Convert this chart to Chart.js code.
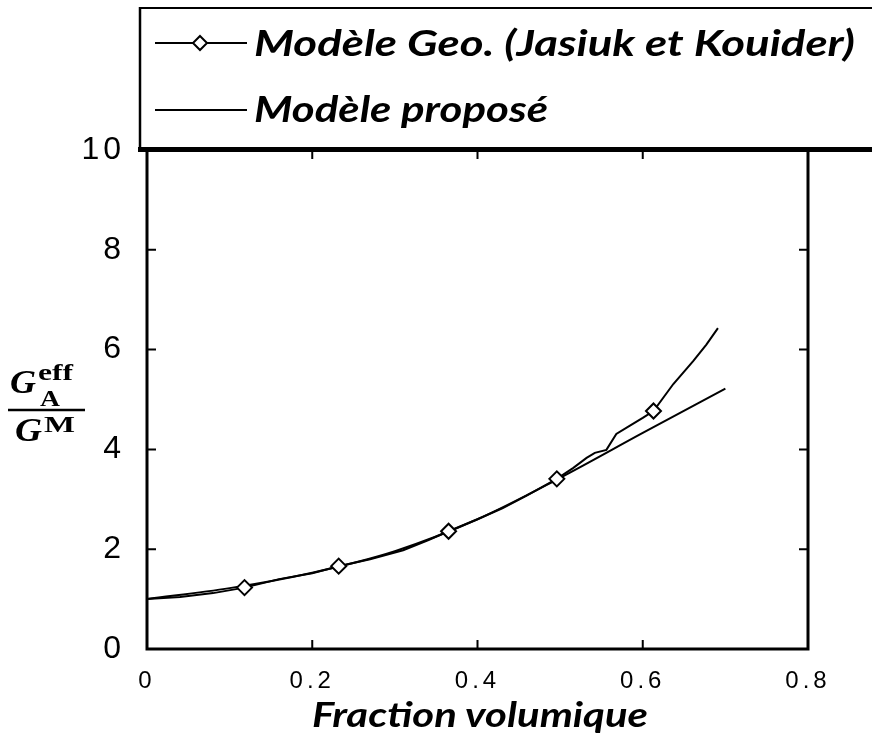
<!DOCTYPE html>
<html>
<head>
<meta charset="utf-8">
<script src="https://cdn.jsdelivr.net/npm/chart.js@4/dist/chart.umd.min.js"></script>
<style>
  body { margin: 0; background: #fff; }
  #wrap { position: relative; width: 872px; height: 743px; }
  #overlay { position: absolute; left: 0; top: 0; pointer-events: none; }
</style>
</head>
<body>
<div id="wrap">
  <canvas id="chart" width="872" height="743"></canvas>
  <svg id="overlay" width="872" height="743" xmlns="http://www.w3.org/2000/svg">
    <!-- legend box -->
    <rect x="140" y="8" width="740" height="141" fill="#fff"/>
    <line x1="140" y1="8" x2="872" y2="8" stroke="#000" stroke-width="2"/>
    <line x1="140" y1="7" x2="140" y2="150" stroke="#000" stroke-width="2.5"/>
    <line x1="138" y1="149.5" x2="872" y2="149.5" stroke="#000" stroke-width="5"/>
    <g id="legend"></g>

    <!-- y axis label: G_A^eff / G^M -->
    <g font-family="Liberation Serif, Times New Roman, serif" font-weight="bold" fill="#000">
      <text x="10" y="393" font-size="33" font-style="italic" textLength="26" lengthAdjust="spacingAndGlyphs">G</text>
      <text x="38" y="380" font-size="24" textLength="35" lengthAdjust="spacingAndGlyphs">eff</text>
      <text x="40" y="406" font-size="23" textLength="20" lengthAdjust="spacingAndGlyphs">A</text>
      <line x1="8" y1="410" x2="85" y2="410" stroke="#000" stroke-width="2.5"/>
      <text x="15" y="441" font-size="33" font-style="italic" textLength="27" lengthAdjust="spacingAndGlyphs">G</text>
      <text x="44" y="432" font-size="23" textLength="31" lengthAdjust="spacingAndGlyphs">M</text>
    </g>

    <text id="xtitle" x="312" y="727" font-family="Lato, sans-serif" font-weight="bold" font-style="italic"
          font-size="34" textLength="336" lengthAdjust="spacingAndGlyphs" fill="#000"></text>
  </svg>
</div>
<script>
const seriesLabels = ['Modèle Geo. (Jasiuk et Kouider)', 'Modèle proposé'];
const xTitle = 'Fraction volumique';

// Modèle Geo. (Jasiuk et Kouider)
const geoX = [0, 0.04, 0.08, 0.118, 0.16, 0.2, 0.232, 0.27, 0.31, 0.34, 0.365, 0.4, 0.43, 0.46,
  0.496, 0.516, 0.532, 0.542, 0.556, 0.568, 0.584, 0.6, 0.613, 0.637, 0.661, 0.677, 0.691];
const geoY = [1.0, 1.04, 1.12, 1.23, 1.4, 1.52, 1.66, 1.8, 1.98, 2.18, 2.36, 2.6, 2.82, 3.08,
  3.41, 3.63, 3.83, 3.93, 3.99, 4.31, 4.47, 4.63, 4.77, 5.31, 5.77, 6.1, 6.43];
// x positions that carry a diamond marker
const markerX = [0.118, 0.232, 0.365, 0.496, 0.613];

// Modèle proposé
const propX = [0, 0.1, 0.2, 0.3, 0.4, 0.5, 0.6, 0.7];
const propY = [1.0, 1.22, 1.53, 1.96, 2.6, 3.43, 4.33, 5.22];

const xTicks = [0, 0.2, 0.4, 0.6, 0.8];
const yTicks = [0, 2, 4, 6, 8, 10];

const toPoints = (xs, ys) => xs.map((x, i) => ({ x: x, y: ys[i] }));

// legend + x title (svg text)
const NS = 'http://www.w3.org/2000/svg';
const legend = document.getElementById('legend');
const legendRows = [
  { y: 43, base: 56, len: 601, marker: true },
  { y: 110, base: 122, len: 294, marker: false }
];
legendRows.forEach((r, i) => {
  const ln = document.createElementNS(NS, 'line');
  ln.setAttribute('x1', 155); ln.setAttribute('x2', 247);
  ln.setAttribute('y1', r.y); ln.setAttribute('y2', r.y);
  ln.setAttribute('stroke', '#000'); ln.setAttribute('stroke-width', 2);
  legend.appendChild(ln);
  if (r.marker) {
    const d = document.createElementNS(NS, 'polygon');
    d.setAttribute('points', `200,${r.y - 7} 207,${r.y} 200,${r.y + 7} 193,${r.y}`);
    d.setAttribute('fill', '#fff'); d.setAttribute('stroke', '#000'); d.setAttribute('stroke-width', 2);
    legend.appendChild(d);
  }
  const t = document.createElementNS(NS, 'text');
  t.setAttribute('x', 254); t.setAttribute('y', r.base);
  t.setAttribute('font-family', 'Lato, sans-serif');
  t.setAttribute('font-weight', 'bold'); t.setAttribute('font-style', 'italic');
  t.setAttribute('font-size', 36);
  t.setAttribute('textLength', r.len); t.setAttribute('lengthAdjust', 'spacingAndGlyphs');
  t.textContent = seriesLabels[i];
  legend.appendChild(t);
});
document.getElementById('xtitle').textContent = xTitle;

// frame and inward ticks on all four sides
const framePlugin = {
  id: 'frame',
  beforeDraw(chart) {
    chart.ctx.letterSpacing = '4px';
  },
  afterDraw(chart) {
    const { ctx, chartArea: a, scales } = chart;
    ctx.save();
    ctx.letterSpacing = '0px';
    ctx.strokeStyle = '#000';
    ctx.lineWidth = 3;
    ctx.beginPath();
    ctx.moveTo(a.left, a.top);
    ctx.lineTo(a.left, a.bottom);
    ctx.lineTo(a.right, a.bottom);
    ctx.lineTo(a.right, a.top);
    ctx.stroke();
    ctx.lineWidth = 2;
    ctx.beginPath();
    xTicks.slice(1, -1).forEach(v => {
      const px = scales.x.getPixelForValue(v);
      ctx.moveTo(px, a.bottom); ctx.lineTo(px, a.bottom - 9);
      ctx.moveTo(px, a.top); ctx.lineTo(px, a.top + 9);
    });
    yTicks.slice(1, -1).forEach(v => {
      const py = scales.y.getPixelForValue(v);
      ctx.moveTo(a.left, py); ctx.lineTo(a.left + 9, py);
      ctx.moveTo(a.right, py); ctx.lineTo(a.right - 9, py);
    });
    ctx.stroke();
    ctx.restore();
  }
};

new Chart(document.getElementById('chart'), {
  type: 'scatter',
  data: {
    datasets: [
      {
        label: seriesLabels[0],
        data: toPoints(geoX, geoY),
        showLine: true,
        borderColor: '#000',
        borderWidth: 2,
        tension: 0,
        pointStyle: 'rectRot',
        pointRadius: c => (c.raw && markerX.includes(c.raw.x) ? 7.5 : 0),
        pointBackgroundColor: '#fff',
        pointBorderColor: '#000',
        pointBorderWidth: 2,
        order: 1
      },
      {
        label: seriesLabels[1],
        data: toPoints(propX, propY),
        showLine: true,
        borderColor: '#000',
        borderWidth: 2,
        cubicInterpolationMode: 'monotone',
        pointRadius: 0,
        order: 2
      }
    ]
  },
  options: {
    responsive: false,
    animation: false,
    devicePixelRatio: 1,
    layout: { padding: { top: 150, right: 64, left: 0, bottom: 0 } },
    plugins: {
      legend: { display: false },
      tooltip: { enabled: false }
    },
    scales: {
      x: {
        type: 'linear',
        min: 0,
        max: 0.8,
        afterFit: s => { s.height = 94; },
        afterBuildTicks: s => { s.ticks = xTicks.map(v => ({ value: v })); },
        grid: { display: false, drawTicks: false },
        border: { display: false },
        ticks: {
          color: '#000',
          padding: 18,
          maxRotation: 0,
          font: { family: 'Liberation Sans, Arial, sans-serif', size: 24 }
        }
      },
      y: {
        min: 0,
        max: 10,
        afterFit: s => { s.width = 147; },
        afterBuildTicks: s => { s.ticks = yTicks.map(v => ({ value: v })); },
        grid: { display: false, drawTicks: false },
        border: { display: false },
        ticks: {
          color: '#000',
          padding: 22,
          font: { family: 'Liberation Sans, Arial, sans-serif', size: 32 }
        }
      }
    }
  },
  plugins: [framePlugin]
});
</script>
</body>
</html>
